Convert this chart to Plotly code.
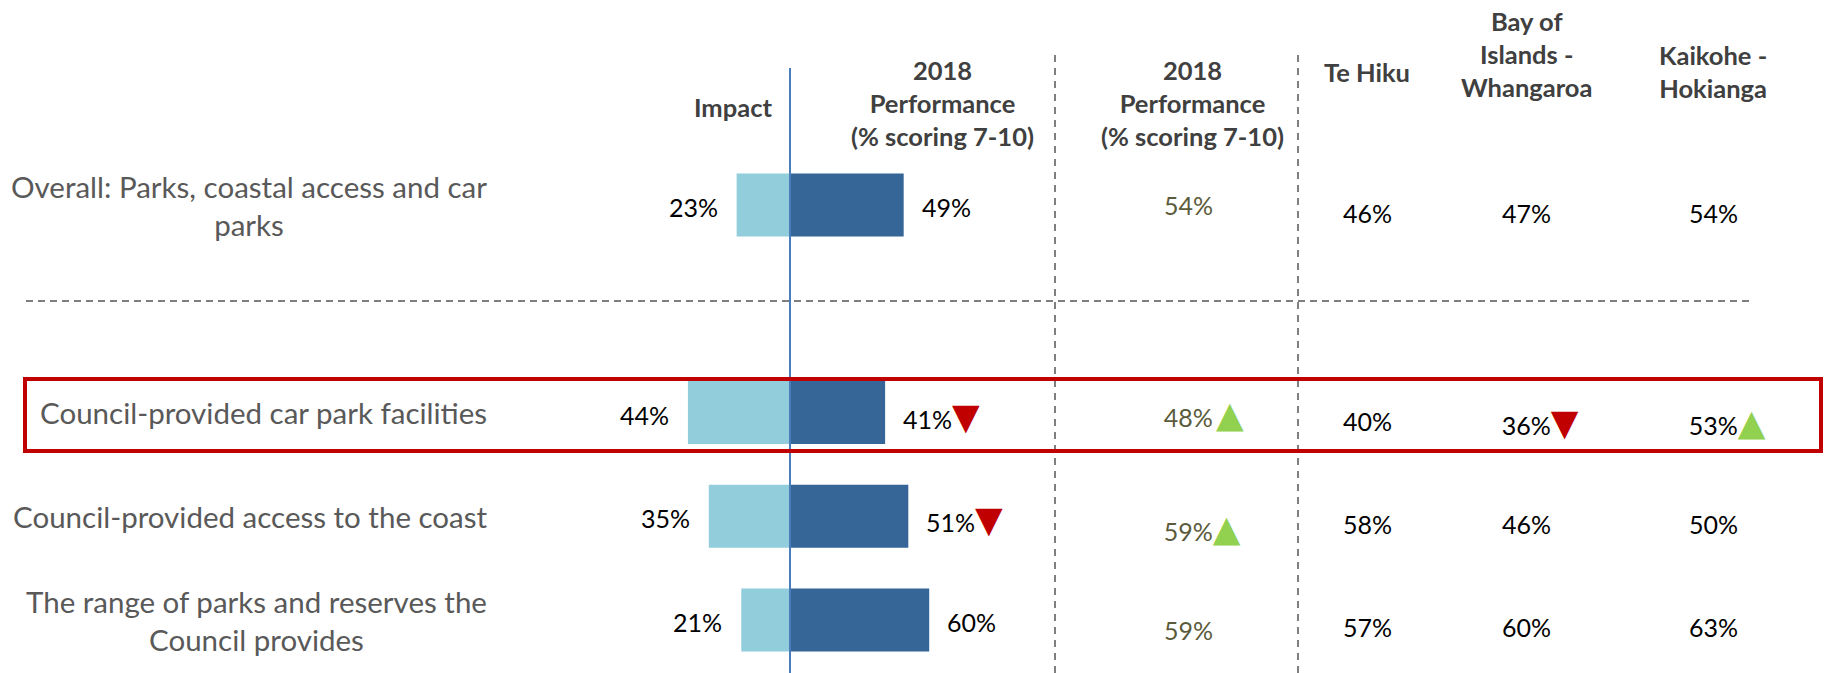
import plotly.graph_objects as go

W, H = 1825, 673

# ---------------- data ----------------
categories = [
    "Overall: Parks, coastal access and car<br>parks",
    "Council-provided car park facilities",
    "Council-provided access to the coast",
    "The range of parks and reserves the<br>Council provides",
]
row_pos = [0, 2, 3, 4]          # row 1 is the empty spacer row
impact = [23, 44, 35, 21]
performance = [49, 41, 51, 60]
performance_change = [None, "down", "down", None]
performance_prev = [54, 48, 59, 59]
performance_prev_change = [None, "up", "up", None]
te_hiku = [46, 40, 58, 57]
te_hiku_change = [None, None, None, None]
bay_of_islands = [47, 36, 46, 60]
bay_of_islands_change = [None, "down", None, None]
kaikohe = [54, 53, 50, 63]
kaikohe_change = [None, "up", None, None]

headers = {
    "impact": "Impact",
    "perf": "2018<br>Performance<br>(% scoring 7-10)",
    "perf_prev": "2018<br>Performance<br>(% scoring 7-10)",
    "te_hiku": "Te Hiku",
    "bay": "Bay of<br>Islands -<br>Whangaroa",
    "kaikohe": "Kaikohe -<br>Hokianga",
}

# ---------------- style ----------------
FONT = "Lato, 'Open Sans', 'DejaVu Sans', sans-serif"
C_IMPACT = "#92CDDC"
C_PERF = "#356697"
C_AXIS = "#4A7EBB"
C_DASH = "#7F7F7F"
C_RED = "#C00000"
C_GREEN = "#92D050"
C_HEAD = "#404040"
C_LABEL = "#595959"
C_PREV = "#5B5B3B"
TRI_SIZE = 36

# pixel mapping for axes
PX_PER_PCT = 2.32
X0_PX = 790
ROW0_PX = 205
ROW_STEP = 103.75

def px(x):
    return x / W

def py(y):
    return 1 - y / H

def tri(change, hidden=False):
    if change is None:
        return ""
    glyph = "▼" if change == "down" else "▲"
    col = "rgba(0,0,0,0)" if hidden else (C_RED if change == "down" else C_GREEN)
    return f'<span style="color:{col};font-size:{TRI_SIZE}px">{glyph}</span>'

fig = go.Figure()

fig.add_trace(go.Bar(
    y=row_pos, x=[-v for v in impact], orientation="h",
    marker=dict(color=C_IMPACT, line=dict(width=0)), width=0.605,
    name="Impact", hoverinfo="skip",
))
fig.add_trace(go.Bar(
    y=row_pos, x=performance, orientation="h",
    marker=dict(color=C_PERF, line=dict(width=0)), width=0.605,
    name="Performance", hoverinfo="skip",
))

ann = []
# row labels
for lab, r in zip(categories, row_pos):
    ann.append(dict(x=px(489), xref="paper", y=r, yref="y", text=lab,
                    xanchor="right", yanchor="middle", align="center",
                    showarrow=False,
                    font=dict(family=FONT, size=29.5, color=C_LABEL)))
# impact labels
for v, r in zip(impact, row_pos):
    ann.append(dict(x=-v, xref="x", y=r, yref="y", text=f"{v}%",
                    xanchor="right", yanchor="middle", xshift=-17, yshift=-2,
                    showarrow=False, font=dict(family=FONT, size=25, color="#000000")))
# performance labels
for v, r, c in zip(performance, row_pos, performance_change):
    ann.append(dict(x=v, xref="x", y=r, yref="y", text=f"{v}%" + tri(c),
                    xanchor="left", yanchor="middle", xshift=16, yshift=-2,
                    showarrow=False, font=dict(family=FONT, size=25, color="#000000")))

# previous performance column
prev_shift = [0, 0, -11, -10]
for v, r, c, s in zip(performance_prev, row_pos, performance_prev_change, prev_shift):
    gap = "&#8201;" if c and r == 2 else ""
    ann.append(dict(x=px(1188), xref="paper", y=r, yref="y",
                    text=tri(c, True) + gap + f"{v}%" + gap + tri(c),
                    xanchor="center", yanchor="middle", yshift=s,
                    showarrow=False, font=dict(family=FONT, size=25, color=C_PREV)))

# regional columns
reg_shift = [-8, -8, -8, -7]
for xc, vals, chg in [(1367, te_hiku, te_hiku_change),
                      (1526, bay_of_islands, bay_of_islands_change),
                      (1713, kaikohe, kaikohe_change)]:
    for v, r, c, s in zip(vals, row_pos, chg, reg_shift):
        ann.append(dict(x=px(xc), xref="paper", y=r, yref="y",
                        text=tri(c, True) + f"{v}%" + tri(c),
                        xanchor="center", yanchor="middle", yshift=s,
                        showarrow=False, font=dict(family=FONT, size=25, color="#000000")))

# headers
hfont = dict(family=FONT, size=25.5, color=C_HEAD)
ann.append(dict(x=px(774), xref="paper", y=py(107), yref="paper", text="<b>" + headers["impact"] + "</b>",
                xanchor="right", yanchor="middle", showarrow=False, font=hfont))
ann.append(dict(x=px(943), xref="paper", y=py(103), yref="paper", text="<b>" + headers["perf"] + "</b>",
                xanchor="center", yanchor="middle", align="center", showarrow=False, font=hfont))
ann.append(dict(x=px(1192), xref="paper", y=py(103), yref="paper", text="<b>" + headers["perf_prev"] + "</b>",
                xanchor="center", yanchor="middle", align="center", showarrow=False, font=hfont))
ann.append(dict(x=px(1367), xref="paper", y=py(72), yref="paper", text="<b>" + headers["te_hiku"] + "</b>",
                xanchor="center", yanchor="middle", align="center", showarrow=False, font=hfont))
ann.append(dict(x=px(1526), xref="paper", y=py(54), yref="paper", text="<b>" + headers["bay"] + "</b>",
                xanchor="center", yanchor="middle", align="center", showarrow=False, font=hfont))
ann.append(dict(x=px(1713), xref="paper", y=py(72), yref="paper", text="<b>" + headers["kaikohe"] + "</b>",
                xanchor="center", yanchor="middle", align="center", showarrow=False, font=hfont))

shapes = [
    # axis line at zero
    dict(type="line", xref="x", x0=0, x1=0, yref="paper", y0=0, y1=py(68),
         line=dict(color=C_AXIS, width=2), layer="above"),
    # horizontal divider
    dict(type="line", xref="paper", x0=px(26), x1=px(1750), yref="paper", y0=py(301), y1=py(301),
         line=dict(color=C_DASH, width=2, dash="7px,5px")),
    # vertical dividers
    dict(type="line", xref="paper", x0=px(1055), x1=px(1055), yref="paper", y0=0, y1=py(53),
         line=dict(color=C_DASH, width=2, dash="7px,6px")),
    dict(type="line", xref="paper", x0=px(1298), x1=px(1298), yref="paper", y0=0, y1=py(53),
         line=dict(color=C_DASH, width=2, dash="7px,6px")),
    # highlight box
    dict(type="rect", xref="paper", x0=px(25), x1=px(1821), yref="paper", y0=py(451), y1=py(379),
         line=dict(color=C_RED, width=4), fillcolor="rgba(0,0,0,0)", layer="above"),
]

x_min = -X0_PX / PX_PER_PCT
x_max = (W - X0_PX) / PX_PER_PCT
y_top = -ROW0_PX / ROW_STEP
y_bot = (H - ROW0_PX) / ROW_STEP

fig.update_layout(
    width=W, height=H,
    margin=dict(l=0, r=0, t=0, b=0),
    paper_bgcolor="white", plot_bgcolor="white",
    barmode="overlay", showlegend=False,
    xaxis=dict(range=[x_min, x_max], visible=False, fixedrange=True),
    yaxis=dict(range=[y_bot, y_top], visible=False, fixedrange=True),
    annotations=ann, shapes=shapes,
    font=dict(family=FONT),
)

fig.write_html("out.html", config={"displayModeBar": False},
               post_script="document.body.style.margin='0';document.body.style.overflow='hidden';")
